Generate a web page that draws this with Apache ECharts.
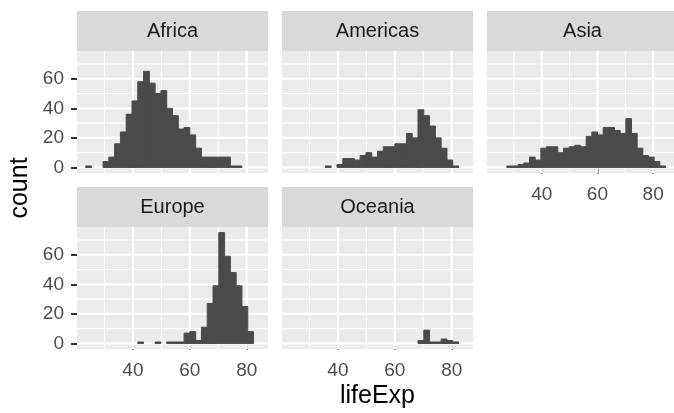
<!DOCTYPE html>
<html>
<head>
<meta charset="utf-8">
<script src="https://cdn.jsdelivr.net/npm/echarts@6/dist/echarts.min.js"></script>
<style>
  html, body { margin: 0; padding: 0; background: #ffffff; }
  #chart { width: 674px; height: 413px; }
</style>
</head>
<body>
<div id="chart"></div>
<script>
// Histogram of life expectancy (30 bins), one facet per continent.
const continents = ['Africa', 'Americas', 'Asia', 'Europe', 'Oceania'];
const lifeExpRange = [23.599, 82.603];
const binCount = 30;

// counts per bin, bins ordered from low to high life expectancy
const africaCounts   = [1, 0, 0, 4, 7, 16, 24, 36, 45, 58, 65, 57, 50, 52, 40, 35, 26, 27, 22, 13, 7, 7, 7, 7, 7, 1, 1, 0, 0, 0];
const americasCounts = [0, 0, 0, 0, 0, 0, 1, 0, 2, 6, 6, 5, 8, 10, 7, 11, 14, 14, 16, 16, 23, 20, 39, 35, 28, 20, 13, 5, 1, 0];
const asiaCounts     = [0, 0, 1, 1, 2, 3, 7, 5, 13, 14, 14, 10, 13, 14, 15, 14, 21, 24, 22, 27, 27, 25, 23, 33, 23, 13, 8, 7, 4, 1];
const europeCounts   = [0, 0, 0, 0, 0, 0, 0, 0, 0, 1, 0, 0, 1, 0, 1, 1, 1, 7, 8, 2, 11, 27, 39, 75, 59, 48, 39, 25, 8, 0];
const oceaniaCounts  = [0, 0, 0, 0, 0, 0, 0, 0, 0, 0, 0, 0, 0, 0, 0, 0, 0, 0, 0, 0, 0, 0, 2, 9, 1, 1, 3, 2, 1, 0];

const xTickValues = [40, 60, 80];
const xMinorBreaks = [30, 50, 70];
const yTickValues = [0, 20, 40, 60];
const yMinorBreaks = [10, 30, 50, 70];

const xTitle = 'lifeExp';
const yTitle = 'count';

const countsByContinent = [africaCounts, americasCounts, asiaCounts, europeCounts, oceaniaCounts];

// ---- bin edges (same rule as ggplot2's bins = 30) ----
const binWidth = (lifeExpRange[1] - lifeExpRange[0]) / (binCount - 1);
const boundary = binWidth / 2;
const origin = boundary + Math.floor((lifeExpRange[0] - boundary) / binWidth) * binWidth;
const edges = Array.from({ length: binCount + 1 }, (_, i) => origin + i * binWidth);

// axis limits with 5% expansion
const xSpan = edges[binCount] - edges[0];
const xMin = edges[0] - 0.05 * xSpan;
const xMax = edges[binCount] + 0.05 * xSpan;
const yPeak = Math.max(...countsByContinent.flat());
const yMin = -0.05 * yPeak;
const yMax = 1.05 * yPeak;

// ---- layout ----
const colLeft = [77, 282, 487];
const rowTop = [51, 227];
const panelW = 191;
const panelH = 122;
const stripH = 40;
const facetPos = [[0, 0], [1, 0], [2, 0], [0, 1], [1, 1]];
const showX = [false, false, true, true, true];
const showY = [true, false, false, true, false];

const FONT = '"Liberation Sans", Arimo, Arial, sans-serif';
const panelBg = '#EBEBEB';
const stripBg = '#D9D9D9';
const barFill = '#4A4A4A';

function renderBin(params, api) {
  const lo = api.coord([api.value(0), api.value(2)]);
  const hi = api.coord([api.value(1), 0]);
  return {
    type: 'rect',
    shape: { x: lo[0], y: lo[1], width: hi[0] - lo[0], height: hi[1] - lo[1] },
    // same-colour outline closes the anti-aliasing seams between adjacent bins
    style: { fill: barFill, stroke: barFill, lineWidth: 1 }
  };
}

function renderGridLine(params, api) {
  const cs = params.coordSys;
  const v = api.value(0);
  const vertical = api.value(2) === 0;
  const major = api.value(3) === 1;
  const style = { stroke: '#FFFFFF', lineWidth: major ? 2.2 : 1.1 };
  if (vertical) {
    const x = api.coord([v, 0])[0];
    return { type: 'line', shape: { x1: x, y1: cs.y, x2: x, y2: cs.y + cs.height }, style };
  }
  const y = api.coord([xMin, v])[1];
  return { type: 'line', shape: { x1: cs.x, y1: y, x2: cs.x + cs.width, y2: y }, style };
}

const gridLineData = [
  ...xTickValues.map(v => [v, v, 0, 1]),
  ...xMinorBreaks.map(v => [v, v, 0, 0]),
  ...yTickValues.map(v => [v, v, 1, 1]),
  ...yMinorBreaks.map(v => [v, v, 1, 0])
];

const grids = [], xAxes = [], yAxes = [], series = [], graphics = [];

continents.forEach((name, i) => {
  const [c, r] = facetPos[i];
  const left = colLeft[c], top = rowTop[r];
  grids.push({
    left, top, width: panelW, height: panelH,
    show: true, backgroundColor: panelBg, borderWidth: 0, containLabel: false
  });
  xAxes.push({
    type: 'value', gridIndex: i, min: xMin, max: xMax,
    axisLine: { show: false },
    splitLine: { show: false },
    axisTick: {
      show: showX[i], customValues: xTickValues, length: 6,
      lineStyle: { color: '#333333', width: 2 }
    },
    axisLabel: {
      show: showX[i], customValues: xTickValues, margin: 12,
      color: '#4D4D4D', fontSize: 19, fontFamily: FONT
    }
  });
  yAxes.push({
    type: 'value', gridIndex: i, min: yMin, max: yMax,
    axisLine: { show: false },
    splitLine: { show: false },
    axisTick: {
      show: showY[i], customValues: yTickValues, length: 6,
      lineStyle: { color: '#333333', width: 2 }
    },
    axisLabel: {
      show: showY[i], customValues: yTickValues, margin: 13,
      color: '#4D4D4D', fontSize: 19, fontFamily: FONT
    }
  });
  series.push({
    type: 'custom', name: name + ' grid', xAxisIndex: i, yAxisIndex: i,
    renderItem: renderGridLine, data: gridLineData,
    encode: { x: 0, y: 1 }, silent: true, z: 1
  });
  const bins = [];
  countsByContinent[i].forEach((n, k) => {
    if (n > 0) bins.push([edges[k], edges[k + 1], n]);
  });
  series.push({
    type: 'custom', name, xAxisIndex: i, yAxisIndex: i,
    renderItem: renderBin, data: bins,
    encode: { x: [0, 1], y: 2 }, z: 2
  });
  // facet strip
  graphics.push({
    type: 'rect', silent: true,
    shape: { x: left, y: top - stripH, width: panelW, height: stripH },
    style: { fill: stripBg }
  });
  graphics.push({
    type: 'text', silent: true,
    x: left + panelW / 2, y: top - stripH / 2,
    style: {
      text: name, fill: '#1A1A1A', fontSize: 20, fontFamily: FONT,
      align: 'center', verticalAlign: 'middle'
    }
  });
});

graphics.push({
  type: 'text', silent: true,
  x: (colLeft[0] + colLeft[2] + panelW) / 2, y: 396,
  style: { text: xTitle, fill: '#000000', fontSize: 25, fontFamily: FONT, align: 'center', verticalAlign: 'middle' }
});
graphics.push({
  type: 'text', silent: true,
  x: 20, y: 188, rotation: Math.PI / 2,
  style: { text: yTitle, fill: '#000000', fontSize: 25, fontFamily: FONT, align: 'center', verticalAlign: 'middle' }
});

const chart = echarts.init(document.getElementById('chart'), null, { renderer: 'canvas' });
chart.setOption({
  animation: false,
  backgroundColor: '#FFFFFF',
  grid: grids,
  xAxis: xAxes,
  yAxis: yAxes,
  series,
  graphic: graphics
});
</script>
</body>
</html>
